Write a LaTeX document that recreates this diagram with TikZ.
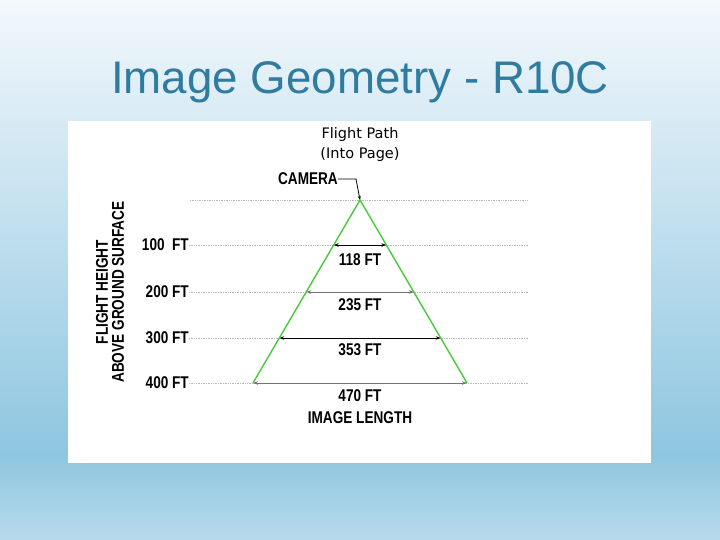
\documentclass[tikz,border=0pt]{standalone}
\usepackage{fontspec}
\setmainfont{Liberation Sans}
\newfontfamily\lblfont[FakeStretch=0.8]{Liberation Sans}
\newfontfamily\notefont{DejaVu Sans}
\usetikzlibrary{positioning,arrows.meta}
\definecolor{bgtop}{RGB}{243,248,252}
\definecolor{bgmid}{RGB}{142,198,224}
\definecolor{bgbot}{RGB}{184,219,235}
\definecolor{titleblue}{RGB}{47,124,160}
\definecolor{conegreen}{RGB}{76,200,60}
\tikzset{
  lbl/.style = {font=\lblfont\bfseries\fontsize{17}{15}\selectfont, inner sep=0pt},
  level line/.style = {gray!55, densely dotted, line width=0.7pt},
  dimarrow/.style = {{Stealth[length=5pt,width=3.5pt]}-{Stealth[length=5pt,width=3.5pt]}, line width=0.8pt},
}
\begin{document}
\begin{tikzpicture}[x=1pt,y=-1pt]
\pgfmathsetmacro\apexx{360};
\pgfmathsetmacro\apexy{200};
\pgfmathsetmacro\slope{107/183};
\useasboundingbox (0,0) rectangle (720,540);
% slide background
\shade[top color=bgtop, bottom color=bgmid] (0,0) rectangle (720,455);
\shade[top color=bgmid, bottom color=bgbot] (0,455) rectangle (720,540);
\fill[white] (68,121) rectangle (651,463);
\node[font=\fontsize{45.7}{50}\selectfont, text=titleblue] (title) at (360,82) {Image Geometry - R10C};
% flight path and camera
\node[font=\notefont\fontsize{14.5}{20}\selectfont, align=center] (path) at (360,145) {Flight Path\\(Into Page)};
\coordinate (apex) at (\apexx,\apexy);
\node[lbl, anchor=east] (cam) at (338,179) {CAMERA};
\coordinate (bend) at (356,179);
\draw[line width=0.8pt, -{Stealth[length=4pt,width=3pt]}] (cam.east) -- (bend) -- (apex);
\coordinate (top0) at (190,\apexy);
\coordinate (top1) at (528,\apexy);
\draw[level line] (top0) -- (top1);
% height levels
\node[lbl, anchor=east] (h1) at (189,245) {100\ \ FT};
\node[lbl, anchor=east] (h2) at (189,292) {200 FT};
\node[lbl, anchor=east] (h3) at (189,338) {300 FT};
\node[lbl, anchor=east] (h4) at (189,383) {400 FT};
\node[lbl, rotate=90, align=center] (axis) at (110,292) {FLIGHT HEIGHT\\[1pt]ABOVE GROUND SURFACE};
\foreach \n/\yy in {1/245,2/292,3/338,4/383} {
  \pgfmathsetmacro\hw{\slope*(\yy-\apexy)};
  \coordinate (L\n) at (\apexx-\hw,\yy);
  \coordinate (R\n) at (\apexx+\hw,\yy);
  \coordinate (e\n) at (528,\yy);
  \draw[level line] (h\n.east) -- (e\n);
}
% image lengths
\draw[dimarrow] (L1) -- (R1);
\draw[dimarrow, black!55] (L2) -- (R2);
\draw[dimarrow] (L3) -- (R3);
\draw[dimarrow, black!55] (L4) -- (R4);
\node[lbl] (w1) at (360,260) {118 FT};
\node[lbl] (w2) at (360,305) {235 FT};
\node[lbl] (w3) at (360,350) {353 FT};
\node[lbl] (w4) at (360,396) {470 FT};
\node[lbl] (len) at (360,418) {IMAGE LENGTH};
% field of view
\draw[conegreen, line width=1.4pt] (L4) -- (apex) -- (R4);
\end{tikzpicture}
\end{document}
